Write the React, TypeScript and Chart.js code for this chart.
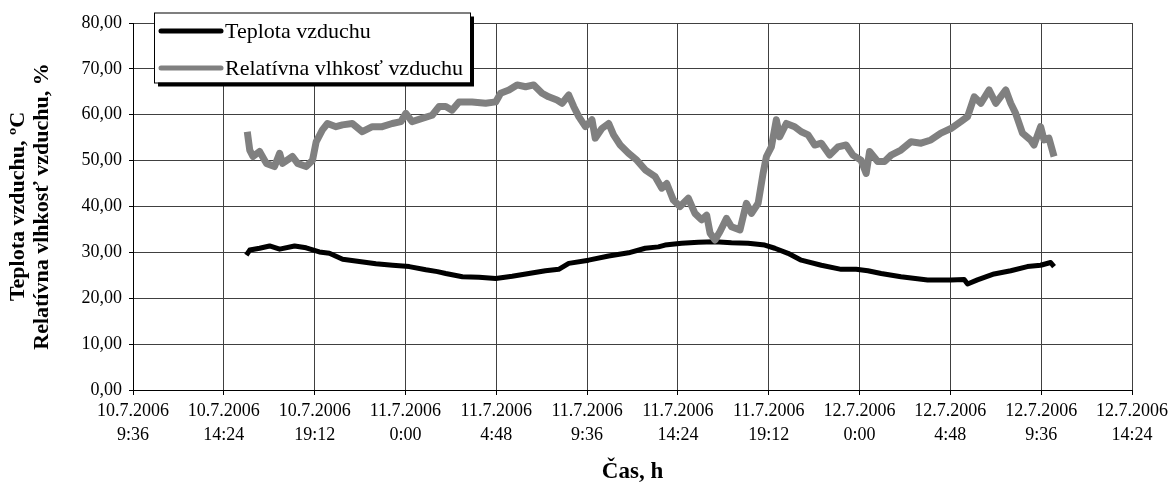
import React, { useEffect, useRef } from "react";
import { Chart, registerables } from "chart.js";

Chart.register(...registerables);

// Time is given in hours counted from 10.7.2006 0:00
const xTickValues = [9.6, 14.4, 19.2, 24.0, 28.8, 33.6, 38.4, 43.2, 48.0, 52.8, 57.6, 62.4];
const xTickLabels = [
  ["10.7.2006", "9:36"],
  ["10.7.2006", "14:24"],
  ["10.7.2006", "19:12"],
  ["11.7.2006", "0:00"],
  ["11.7.2006", "4:48"],
  ["11.7.2006", "9:36"],
  ["11.7.2006", "14:24"],
  ["11.7.2006", "19:12"],
  ["12.7.2006", "0:00"],
  ["12.7.2006", "4:48"],
  ["12.7.2006", "9:36"],
  ["12.7.2006", "14:24"],
];

const tempHours = [
  15.59, 15.77, 16.29, 16.82, 17.35, 18.14, 18.75, 19.45, 19.98, 20.68,
  21.56, 22.44, 23.32, 24.2, 25.08, 25.69, 26.13, 27.01, 27.89, 28.77,
  29.64, 30.52, 31.4, 32.1, 32.63, 33.68, 34.74, 35.79, 36.67, 37.37,
  37.72, 38.6, 39.48, 40.36, 41.23, 42.11, 42.99, 43.52, 44.22, 44.92,
  45.98, 47.03, 47.82, 48.44, 49.14, 50.19, 51.6, 52.83, 53.53, 53.71,
  54.23, 55.11, 55.99, 56.87, 57.57, 58.1, 58.28,
];
const tempValues = [
  29.4, 30.5, 30.9, 31.4, 30.7, 31.4, 31.0, 30.1, 29.8, 28.5,
  28.0, 27.5, 27.2, 26.9, 26.2, 25.8, 25.4, 24.7, 24.6, 24.3,
  24.8, 25.4, 26.0, 26.3, 27.6, 28.3, 29.2, 29.9, 30.9, 31.2,
  31.6, 32.0, 32.2, 32.3, 32.1, 32.0, 31.6, 30.9, 29.8, 28.3,
  27.2, 26.3, 26.3, 26.0, 25.4, 24.7, 24.0, 24.0, 24.1, 23.1,
  24.0, 25.3, 26.0, 26.9, 27.2, 27.8, 26.9,
];

const humHours = [
  15.64, 15.77, 15.94, 16.29, 16.65, 17.08, 17.35, 17.5, 18.03, 18.3,
  18.75, 19.09, 19.28, 19.61, 19.88, 20.33, 20.67, 21.19, 21.72, 22.25,
  22.77, 23.3, 23.76, 24.02, 24.35, 24.88, 25.41, 25.78, 26.13, 26.46,
  26.83, 27.52, 28.24, 28.77, 29.03, 29.47, 29.9, 30.35, 30.78, 31.22,
  31.57, 32.01, 32.28, 32.63, 32.89, 33.16, 33.51, 33.86, 34.03, 34.38,
  34.74, 35.0, 35.35, 35.79, 36.23, 36.67, 37.2, 37.55, 37.81, 38.16,
  38.51, 38.95, 39.3, 39.65, 39.92, 40.1, 40.36, 40.62, 40.97, 41.23,
  41.68, 42.02, 42.29, 42.64, 42.9, 43.08, 43.34, 43.6, 43.78, 44.13,
  44.57, 44.92, 45.28, 45.63, 45.98, 46.42, 46.86, 47.29, 47.65, 48.08,
  48.35, 48.53, 48.96, 49.32, 49.67, 50.19, 50.72, 51.25, 51.77, 52.3,
  52.83, 53.35, 53.71, 54.06, 54.41, 54.85, 55.2, 55.73, 55.99, 56.25,
  56.61, 57.04, 57.22, 57.57, 57.75, 58.01, 58.28,
];
const humValues = [
  56.3, 52.3, 50.9, 52.0, 49.4, 48.7, 51.6, 49.4, 50.9, 49.4,
  48.7, 50.1, 54.1, 56.7, 58.1, 57.4, 57.8, 58.1, 56.3, 57.4,
  57.4, 58.1, 58.5, 60.3, 58.5, 59.2, 59.9, 61.8, 61.8, 61.0,
  62.8, 62.8, 62.5, 62.8, 64.7, 65.4, 66.5, 66.1, 66.5, 64.7,
  63.9, 63.2, 62.5, 64.3, 61.8, 59.6, 57.4, 58.9, 54.9, 57.0,
  58.1, 55.6, 53.4, 51.6, 50.1, 48.0, 46.5, 44.0, 45.0, 41.4,
  40.0, 41.8, 38.5, 37.1, 38.1, 34.2, 32.7, 34.5, 37.4, 35.6,
  34.9, 40.7, 38.5, 40.7, 47.2, 50.9, 53.0, 58.9, 55.2, 58.1,
  57.4, 56.3, 55.6, 53.4, 53.8, 51.2, 53.0, 53.4, 51.2, 50.1,
  47.2, 52.0, 49.8, 49.8, 51.2, 52.3, 54.1, 53.8, 54.5, 56.0,
  57.0, 58.5, 59.6, 63.9, 62.5, 65.4, 62.5, 65.4, 62.5, 60.3,
  56.0, 54.5, 53.4, 57.4, 54.5, 54.9, 50.9,
];

const seriesNames = ["Teplota vzduchu", "Relatívna vlhkosť vzduchu"];
const seriesColors = ["#000000", "#808080"];
const yTitleLines = ["Teplota vzduchu, ºC", "Relatívna vlhkosť vzduchu, %"];
const xTitle = "Čas, h";

const FONT = "'Liberation Serif', 'Times New Roman', serif";

const overlayPlugin = {
  id: "overlay",
  afterDraw(chart: any) {
    const ctx = chart.ctx as CanvasRenderingContext2D;
    const area = chart.chartArea;
    ctx.save();
    // axis titles
    ctx.fillStyle = "#000";
    ctx.font = `bold 22px ${FONT}`;
    ctx.textAlign = "center";
    ctx.textBaseline = "middle";
    const cy = (area.top + area.bottom) / 2;
    const xs = [18, 42];
    yTitleLines.forEach((t, i) => {
      ctx.save();
      ctx.translate(xs[i], cy);
      ctx.rotate(-Math.PI / 2);
      ctx.fillText(t, 0, 0);
      ctx.restore();
    });
    ctx.font = `bold 23px ${FONT}`;
    ctx.fillText(xTitle, (area.left + area.right) / 2, 472);

    // legend
    const lx = 154, ly = 12.5, lw = 316, lh = 70;
    ctx.fillStyle = "#000";
    ctx.fillRect(lx + 4, ly + 4, lw, lh);
    ctx.fillStyle = "#fff";
    ctx.fillRect(lx, ly, lw, lh);
    ctx.strokeStyle = "#000";
    ctx.lineWidth = 1;
    ctx.strokeRect(lx + 0.5, ly + 0.5, lw, lh);
    const rows = [31, 68];
    ctx.font = `22px ${FONT}`;
    ctx.textAlign = "left";
    seriesNames.forEach((name, i) => {
      ctx.strokeStyle = seriesColors[i];
      ctx.lineWidth = 5;
      ctx.lineCap = "round";
      ctx.beginPath();
      ctx.moveTo(161, rows[i]);
      ctx.lineTo(221, rows[i]);
      ctx.stroke();
      ctx.fillStyle = "#000";
      ctx.fillText(name, 225, rows[i] + 1);
    });
    ctx.restore();
  },
};

export default function App() {
  const ref = useRef<HTMLCanvasElement | null>(null);

  useEffect(() => {
    document.body.style.margin = "0";
    const canvas = ref.current;
    if (!canvas) return;
    const chart = new Chart(canvas, {
      type: "line",
      data: {
        datasets: [
          {
            label: seriesNames[1],
            data: humHours.map((h, i) => ({ x: h, y: humValues[i] })),
            borderColor: seriesColors[1],
            backgroundColor: seriesColors[1],
            borderWidth: 7,
            pointRadius: 0,
            tension: 0,
            borderJoinStyle: "round",
          },
          {
            label: seriesNames[0],
            data: tempHours.map((h, i) => ({ x: h, y: tempValues[i] })),
            borderColor: seriesColors[0],
            backgroundColor: seriesColors[0],
            borderWidth: 5,
            pointRadius: 0,
            tension: 0,
            borderJoinStyle: "round",
          },
        ],
      },
      options: {
        responsive: false,
        animation: false,
        devicePixelRatio: 1,
        layout: { padding: { top: 23, right: 38, left: 0, bottom: 0 } },
        plugins: {
          legend: { display: false },
          tooltip: { enabled: false },
        },
        scales: {
          x: {
            type: "linear",
            min: xTickValues[0],
            max: xTickValues[xTickValues.length - 1],
            afterBuildTicks: (s: any) => {
              s.ticks = xTickValues.map((v) => ({ value: v }));
            },
            afterFit: (s: any) => {
              s.height = 97;
            },
            ticks: {
              autoSkip: false,
              maxRotation: 0,
              minRotation: 0,
              padding: 5,
              color: "#000",
              font: { family: FONT, size: 18, lineHeight: 1.3 },
              callback: (_v: any, i: number) => xTickLabels[i],
            },
            grid: { color: "#404040", lineWidth: 1, tickLength: 5, tickColor: "#000" },
            border: { color: "#000", width: 1 },
          },
          y: {
            min: 0,
            max: 80,
            afterFit: (s: any) => {
              s.width = 133;
            },
            ticks: {
              stepSize: 10,
              padding: 7,
              color: "#000",
              font: { family: FONT, size: 18 },
              callback: (v: any) => Number(v).toFixed(2).replace(".", ","),
            },
            grid: { color: "#404040", lineWidth: 1, tickLength: 4, tickColor: "#000" },
            border: { color: "#000", width: 1 },
          },
        },
      },
      plugins: [overlayPlugin],
    });
    return () => chart.destroy();
  }, []);

  return (
    <div style={{ position: "fixed", left: 0, top: 0, width: 1173, height: 487, background: "#fff" }}>
      <canvas ref={ref} width={1173} height={487} />
    </div>
  );
}
